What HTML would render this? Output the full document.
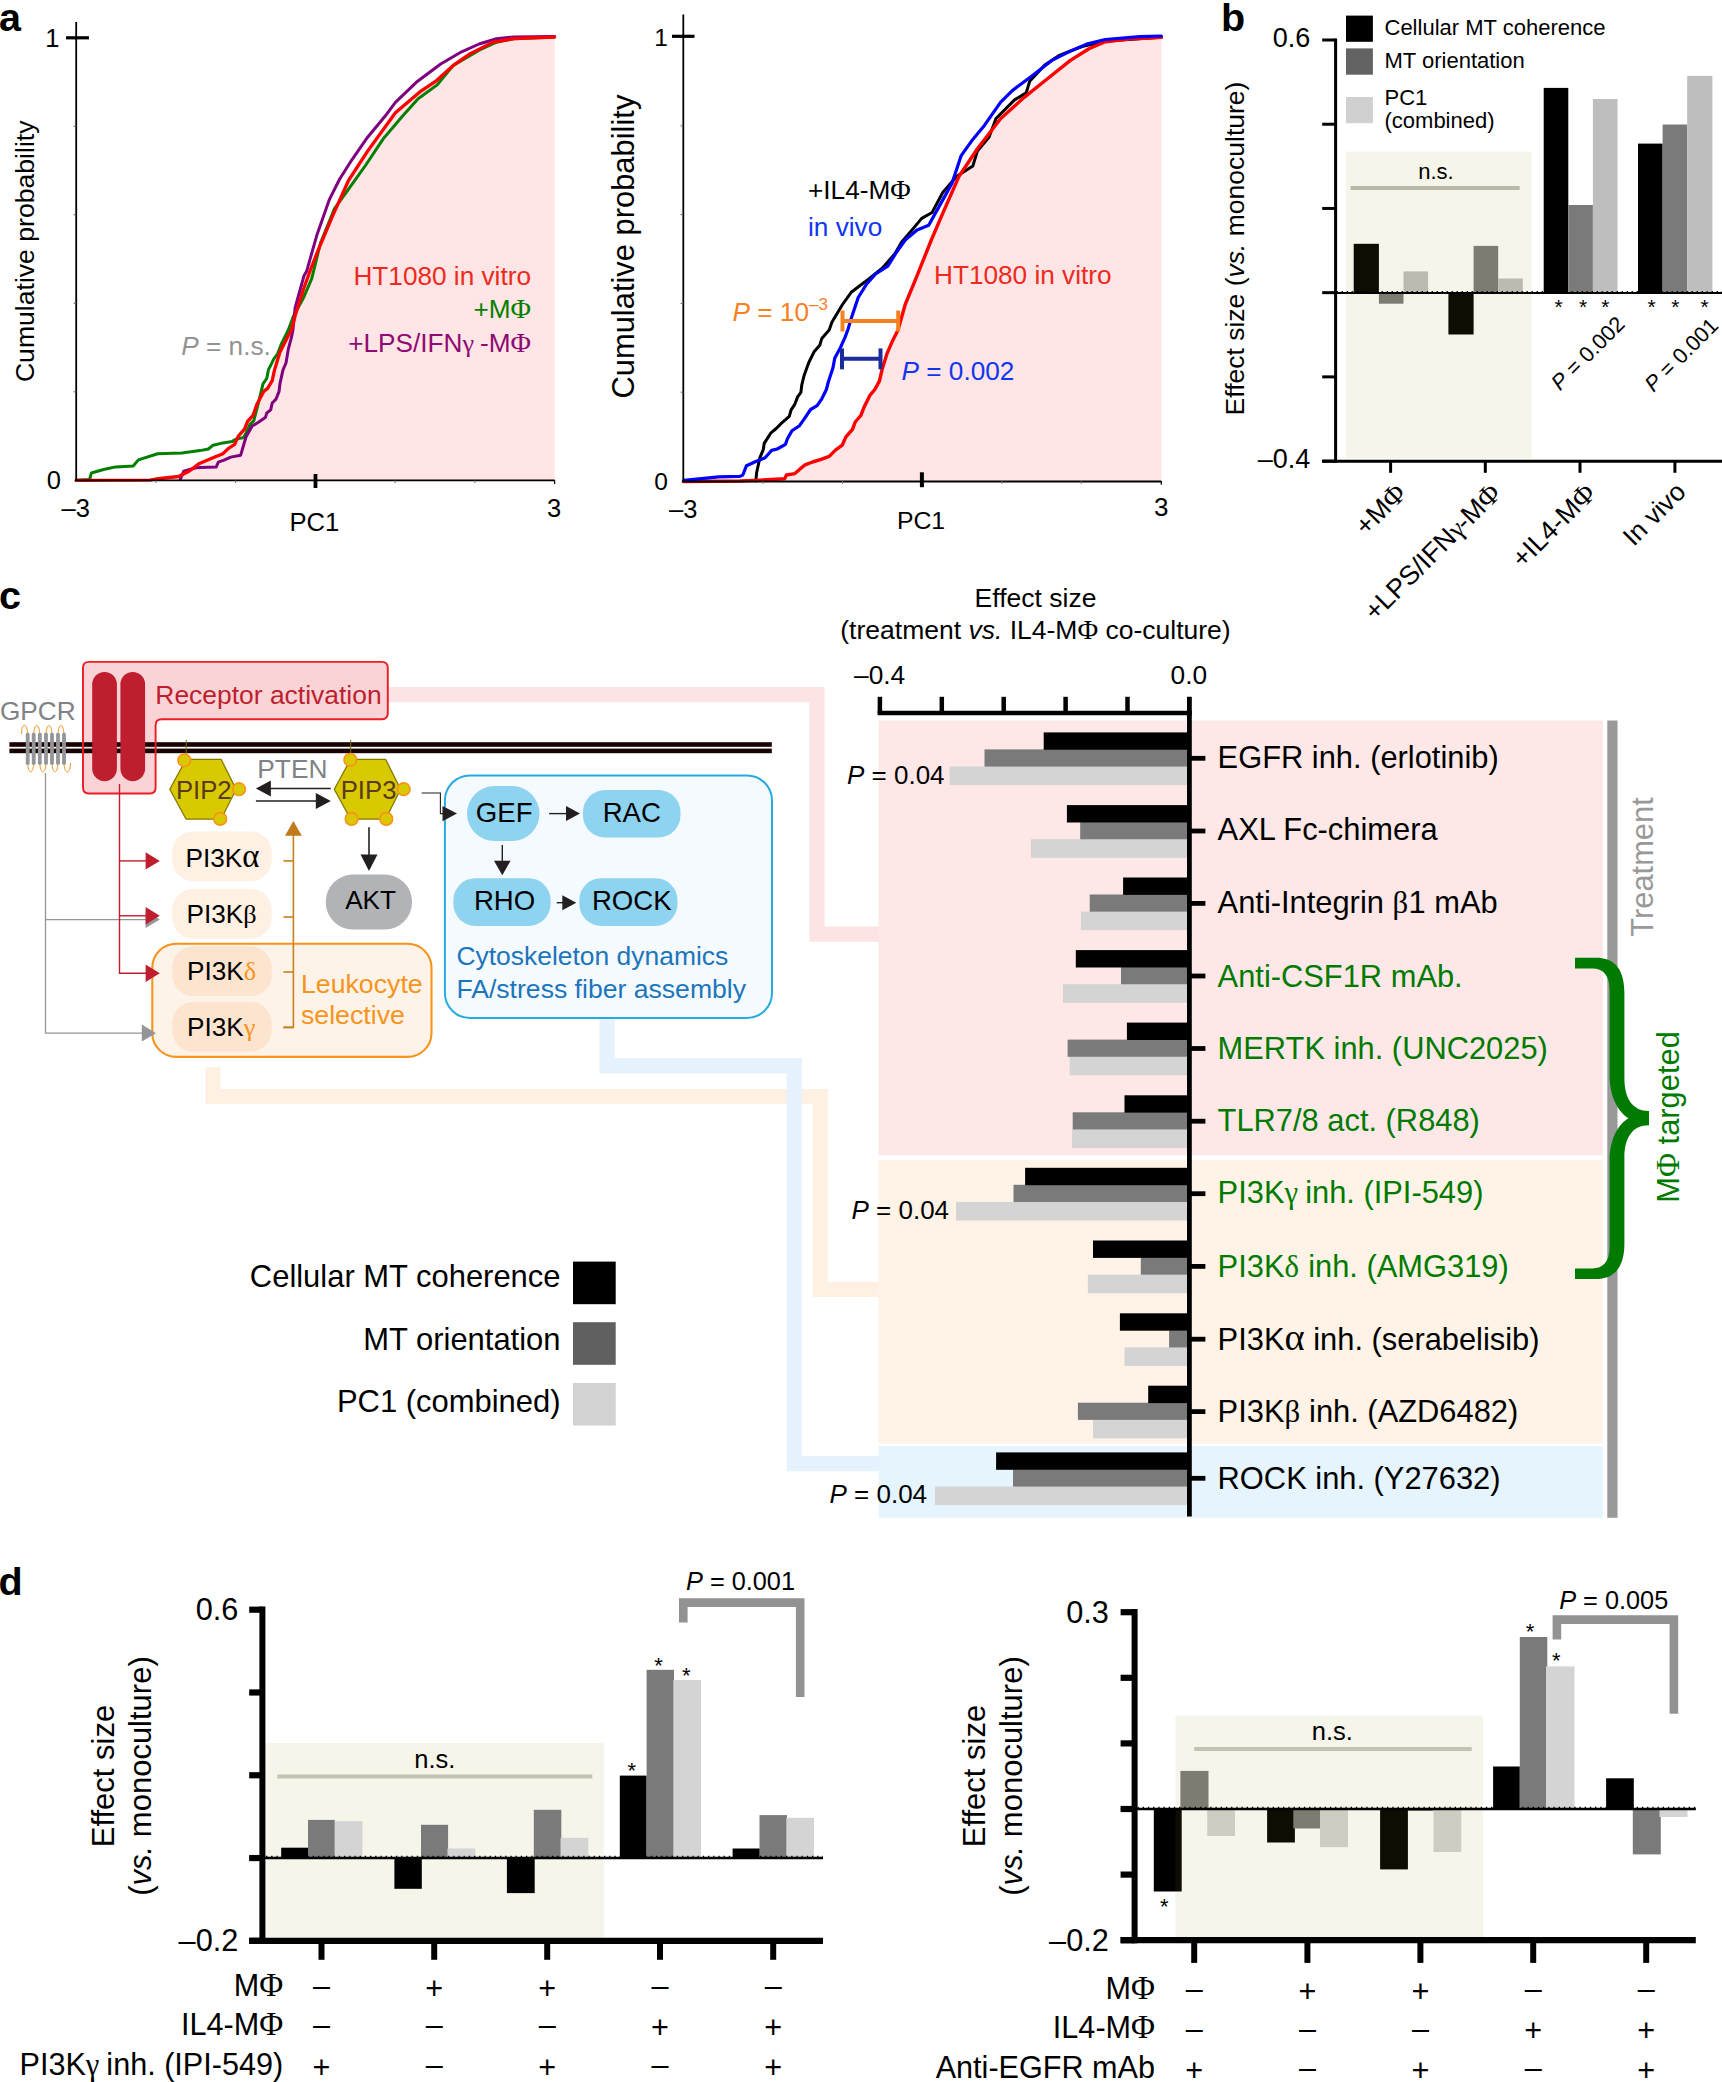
<!DOCTYPE html>
<html lang="en"><head><meta charset="utf-8"><title>Figure</title>
<style>
html,body{margin:0;padding:0;background:#fff;}
svg{display:block;font-family:'Liberation Sans', sans-serif;}
</style></head>
<body>
<svg width="1722" height="2082" viewBox="0 0 1722 2082">
<rect width="1722" height="2082" fill="#fff"/>
<g id="panel-a">
<text x="-1.00" y="31.30" font-size="39.5" fill="#000" font-weight="bold">a</text>
<polygon points="76.2,480.3 150.0,480.2 156.0,479.0 178.5,476.5 189.0,471.3 199.4,463.4 215.4,456.7 223.0,453.7 228.4,448.3 234.6,444.4 238.4,436.0 244.5,429.1 247.6,421.4 253.0,415.3 256.8,404.5 263.7,391.4 267.6,388.4 272.2,380.7 274.5,369.9 279.9,352.3 286.8,338.4 291.4,330.0 295.2,315.5 303.9,288.0 311.5,267.0 318.8,248.7 332.7,215.6 348.4,180.7 367.6,151.1 395.4,112.8 419.8,91.9 435.5,81.4 452.9,65.7 470.3,53.6 493.0,42.2 513.9,38.7 554.6,37.0 554.6,480.3 76.2,480.3" fill="#FFE5E5"/>
<polyline points="76.2,480.3 89.6,479.5 91.4,473.0 103.6,469.5 115.7,466.9 133.2,466.0 138.4,459.9 157.6,453.8 182.0,453.0 200.0,450.6 208.4,449.0 213.1,445.2 223.0,442.9 232.3,441.4 236.1,439.1 243.8,437.5 246.1,432.9 249.9,424.5 253.8,420.6 256.8,409.1 259.9,396.8 263.0,383.8 266.8,378.4 268.4,369.9 270.7,365.3 273.7,359.2 277.6,353.8 281.4,343.8 288.3,330.0 293.4,316.2 303.9,297.0 311.8,278.3 320.5,243.0 334.5,208.6 348.4,189.4 365.8,165.0 383.2,138.9 402.4,116.3 418.1,98.8 437.2,84.9 452.9,65.7 479.1,50.1 496.5,42.2 513.9,38.7 554.6,37.0" fill="none" stroke="#007F00" stroke-width="3.0" stroke-linejoin="round" stroke-linecap="round"/>
<polyline points="180.2,479.5 183.7,471.3 195.9,467.8 200.0,467.5 216.1,467.1 218.4,462.1 224.6,459.8 230.7,457.1 240.7,455.2 243.8,444.4 246.1,436.8 252.2,426.0 258.4,422.2 265.3,417.6 266.8,413.0 270.7,409.9 272.2,403.0 276.0,399.1 279.1,391.4 279.9,383.8 283.0,369.9 286.0,363.0 288.3,349.2 291.4,337.7 292.9,330.0 295.2,307.5 303.9,276.1 306.6,271.3 317.0,234.7 329.2,199.9 339.7,179.0 351.9,159.8 367.6,137.2 385.0,116.3 395.4,102.3 416.3,82.3 440.7,64.0 461.6,51.8 479.1,44.0 496.5,38.7 513.9,37.0 554.6,36.5" fill="none" stroke="#7F007F" stroke-width="3.0" stroke-linejoin="round" stroke-linecap="round"/>
<polyline points="76.2,480.3 150.0,480.2 156.0,479.0 178.5,476.5 189.0,471.3 199.4,463.4 215.4,456.7 223.0,453.7 228.4,448.3 234.6,444.4 238.4,436.0 244.5,429.1 247.6,421.4 253.0,415.3 256.8,404.5 263.7,391.4 267.6,388.4 272.2,380.7 274.5,369.9 279.9,352.3 286.8,338.4 291.4,330.0 295.2,315.5 303.9,288.0 311.5,267.0 318.8,248.7 332.7,215.6 348.4,180.7 367.6,151.1 395.4,112.8 419.8,91.9 435.5,81.4 452.9,65.7 470.3,53.6 493.0,42.2 513.9,38.7 554.6,37.0" fill="none" stroke="#FF0000" stroke-width="3.3" stroke-linejoin="round" stroke-linecap="round"/>
<line x1="76.20" y1="22.00" x2="76.20" y2="481.20" stroke="#000" stroke-width="1.8"/>
<line x1="75.30" y1="480.30" x2="554.60" y2="480.30" stroke="#000" stroke-width="1.8"/>
<line x1="66.00" y1="37.80" x2="89.00" y2="37.80" stroke="#000" stroke-width="3.2"/>
<line x1="315.50" y1="474.00" x2="315.50" y2="488.00" stroke="#000" stroke-width="3.8"/>
<line x1="73.50" y1="391.80" x2="76.20" y2="391.80" stroke="#666" stroke-width="1"/>
<line x1="73.50" y1="303.30" x2="76.20" y2="303.30" stroke="#666" stroke-width="1"/>
<line x1="73.50" y1="214.80" x2="76.20" y2="214.80" stroke="#666" stroke-width="1"/>
<line x1="73.50" y1="126.30" x2="76.20" y2="126.30" stroke="#666" stroke-width="1"/>
<line x1="155.93" y1="480.30" x2="155.93" y2="483.00" stroke="#666" stroke-width="1"/>
<line x1="235.66" y1="480.30" x2="235.66" y2="483.00" stroke="#666" stroke-width="1"/>
<line x1="395.12" y1="480.30" x2="395.12" y2="483.00" stroke="#666" stroke-width="1"/>
<line x1="474.85" y1="480.30" x2="474.85" y2="483.00" stroke="#666" stroke-width="1"/>
<line x1="554.60" y1="480.30" x2="554.60" y2="484.00" stroke="#000" stroke-width="1.2"/>
<text x="59.50" y="46.80" font-size="25.5" fill="#000" text-anchor="end">1</text>
<text x="61.00" y="489.30" font-size="25.5" fill="#000" text-anchor="end">0</text>
<text x="61.50" y="516.70" font-size="25.5" fill="#000">–3</text>
<text x="547.00" y="516.70" font-size="25.5" fill="#000">3</text>
<text x="314.30" y="531.00" font-size="25.6" fill="#000" text-anchor="middle">PC1</text>
<text transform="translate(33.50 251.30) rotate(-90)" font-size="26.6" fill="#000" text-anchor="middle">Cumulative probability</text>
<text x="531.00" y="284.50" font-size="26.2" fill="#EE2A1C" text-anchor="end">HT1080 in vitro</text>
<text x="531.00" y="317.50" font-size="26.2" fill="#007F00" text-anchor="end">+M<tspan font-family="'Liberation Serif', serif" font-size="107%">Φ</tspan></text>
<text x="531.00" y="351.50" font-size="26.2" fill="#8F0A72" text-anchor="end">+LPS/IFN<tspan font-family="'Liberation Serif', serif">γ</tspan><tspan dx="-0.050em"> </tspan>-M<tspan font-family="'Liberation Serif', serif" font-size="107%">Φ</tspan></text>
<text x="181.30" y="355.00" font-size="26.2" fill="#939393"><tspan font-style="italic">P</tspan> = n.s.</text>
<polygon points="683.3,481.5 740.0,481.0 761.4,480.1 784.6,478.7 786.5,475.0 794.8,473.6 799.5,469.4 805.1,464.8 812.5,462.0 821.8,459.2 829.2,456.4 835.7,449.9 842.2,445.2 845.9,436.9 852.5,429.4 855.2,422.0 860.8,415.5 864.5,406.2 870.1,395.1 874.8,389.5 879.4,381.1 882.2,369.0 886.8,354.2 892.4,341.2 898.0,330.0 905.2,304.5 917.4,274.8 931.3,240.0 942.6,213.7 958.9,176.5 977.4,148.7 1000.7,118.5 1023.9,97.6 1047.1,79.0 1070.4,60.4 1088.9,48.8 1105.2,41.8 1128.4,39.0 1161.3,37.2 1161.3,481.5 683.3,481.5" fill="#FFE5E5"/>
<polyline points="755.8,481.0 756.7,472.2 760.0,457.3 763.2,449.9 764.2,443.4 770.7,433.2 776.2,428.5 781.8,422.9 789.3,416.4 791.1,409.9 794.8,404.3 797.6,396.9 800.9,392.3 801.8,384.8 804.1,375.5 808.8,362.5 814.3,351.4 819.9,344.9 821.8,338.4 829.2,330.0 832.0,321.9 842.5,304.5 851.2,292.3 865.1,281.8 882.5,267.9 894.7,253.9 901.7,242.0 910.1,232.3 921.7,218.4 932.1,212.5 942.6,192.8 956.5,176.5 972.8,166.1 977.4,151.0 989.1,137.0 996.0,118.5 1014.6,99.9 1026.2,92.9 1029.7,81.3 1044.8,65.0 1058.7,55.7 1082.0,46.5 1105.2,41.3 1128.4,39.5 1161.3,37.2" fill="none" stroke="#000" stroke-width="3.0" stroke-linejoin="round" stroke-linecap="round"/>
<polyline points="683.3,481.5 740.0,481.0 761.4,480.1 784.6,478.7 786.5,475.0 794.8,473.6 799.5,469.4 805.1,464.8 812.5,462.0 821.8,459.2 829.2,456.4 835.7,449.9 842.2,445.2 845.9,436.9 852.5,429.4 855.2,422.0 860.8,415.5 864.5,406.2 870.1,395.1 874.8,389.5 879.4,381.1 882.2,369.0 886.8,354.2 892.4,341.2 898.0,330.0 905.2,304.5 917.4,274.8 931.3,240.0 942.6,213.7 958.9,176.5 977.4,148.7 1000.7,118.5 1023.9,97.6 1047.1,79.0 1070.4,60.4 1088.9,48.8 1105.2,41.8 1128.4,39.0 1161.3,37.2" fill="none" stroke="#FF0000" stroke-width="3.4" stroke-linejoin="round" stroke-linecap="round"/>
<polyline points="683.9,480.3 718.8,476.8 740.0,476.4 742.8,475.0 746.5,465.7 755.8,461.5 765.1,457.8 771.6,450.4 777.2,449.0 785.5,444.3 787.4,438.7 792.0,430.8 799.5,425.7 804.1,419.2 810.6,409.5 817.1,405.7 821.8,398.8 826.4,389.5 828.3,382.0 832.9,368.1 834.8,357.9 840.4,347.7 845.0,337.4 847.8,330.0 851.2,318.4 858.2,297.5 866.9,283.6 875.6,274.0 887.8,266.1 896.5,252.2 905.2,240.0 917.1,230.0 928.7,225.3 940.3,204.4 951.9,183.5 961.2,155.6 972.8,139.4 984.4,125.4 1000.7,102.2 1012.3,90.6 1030.9,76.7 1051.8,60.4 1070.4,51.1 1086.6,44.1 1105.2,39.5 1140.0,36.7 1161.3,36.0" fill="none" stroke="#0000FF" stroke-width="3.2" stroke-linejoin="round" stroke-linecap="round"/>
<line x1="683.30" y1="14.50" x2="683.30" y2="482.00" stroke="#000" stroke-width="1.8"/>
<line x1="682.40" y1="481.50" x2="1161.30" y2="481.50" stroke="#000" stroke-width="1.8"/>
<line x1="672.00" y1="36.30" x2="694.50" y2="36.30" stroke="#000" stroke-width="3.2"/>
<line x1="921.90" y1="472.30" x2="921.90" y2="487.20" stroke="#000" stroke-width="4.0"/>
<line x1="680.60" y1="392.20" x2="683.30" y2="392.20" stroke="#666" stroke-width="1"/>
<line x1="680.60" y1="303.40" x2="683.30" y2="303.40" stroke="#666" stroke-width="1"/>
<line x1="680.60" y1="214.60" x2="683.30" y2="214.60" stroke="#666" stroke-width="1"/>
<line x1="680.60" y1="125.80" x2="683.30" y2="125.80" stroke="#666" stroke-width="1"/>
<line x1="762.90" y1="481.00" x2="762.90" y2="483.70" stroke="#666" stroke-width="1"/>
<line x1="842.50" y1="481.00" x2="842.50" y2="483.70" stroke="#666" stroke-width="1"/>
<line x1="1001.70" y1="481.00" x2="1001.70" y2="483.70" stroke="#666" stroke-width="1"/>
<line x1="1081.30" y1="481.00" x2="1081.30" y2="483.70" stroke="#666" stroke-width="1"/>
<line x1="1161.30" y1="481.00" x2="1161.30" y2="484.70" stroke="#000" stroke-width="1.2"/>
<text x="668.00" y="45.50" font-size="24.5" fill="#000" text-anchor="end">1</text>
<text x="668.00" y="489.50" font-size="24.5" fill="#000" text-anchor="end">0</text>
<text x="669.00" y="517.50" font-size="25.5" fill="#000">–3</text>
<text x="1154.00" y="516.20" font-size="26" fill="#000">3</text>
<text x="921.00" y="528.70" font-size="24.8" fill="#000" text-anchor="middle">PC1</text>
<text transform="translate(633.70 246.60) rotate(-90)" font-size="30.9" fill="#000" text-anchor="middle">Cumulative probability</text>
<text x="808.00" y="198.50" font-size="26.2" fill="#000">+IL4-M<tspan font-family="'Liberation Serif', serif" font-size="107%">Φ</tspan></text>
<text x="808.00" y="236.00" font-size="26.2" fill="#0F36F0">in vivo</text>
<text x="934.00" y="283.50" font-size="26.2" fill="#EE2A1C">HT1080 in vitro</text>
<text x="732.50" y="320.50" font-size="26.2" fill="#F5821F"><tspan font-style="italic">P</tspan> = 10<tspan font-size="17" dy="-11">–3</tspan></text>
<text x="901.50" y="379.50" font-size="26.2" fill="#0F36F0"><tspan font-style="italic">P</tspan> = 0.002</text>
<line x1="842.00" y1="321.00" x2="898.60" y2="321.00" stroke="#F5821F" stroke-width="4"/>
<line x1="842.50" y1="310.50" x2="842.50" y2="331.50" stroke="#F5821F" stroke-width="4"/>
<line x1="898.20" y1="310.50" x2="898.20" y2="331.50" stroke="#F5821F" stroke-width="4"/>
<line x1="841.50" y1="358.80" x2="881.00" y2="358.80" stroke="#1A2C9B" stroke-width="4"/>
<line x1="842.00" y1="348.40" x2="842.00" y2="369.30" stroke="#1A2C9B" stroke-width="4"/>
<line x1="880.50" y1="348.40" x2="880.50" y2="369.30" stroke="#1A2C9B" stroke-width="4"/>
</g>
<g id="panel-b">
<text x="1221.00" y="31.00" font-size="39.5" fill="#000" font-weight="bold">b</text>
<rect x="1353.70" y="243.80" width="25.20" height="49.20" fill="#000"/>
<rect x="1378.90" y="293.00" width="24.60" height="10.70" fill="#7A7A7A"/>
<rect x="1403.50" y="271.40" width="24.60" height="21.60" fill="#C0C0C0"/>
<rect x="1448.40" y="293.00" width="25.20" height="41.50" fill="#000"/>
<rect x="1473.60" y="245.90" width="24.60" height="47.10" fill="#7A7A7A"/>
<rect x="1498.20" y="278.50" width="24.60" height="14.50" fill="#C0C0C0"/>
<rect x="1543.70" y="87.90" width="24.60" height="205.10" fill="#000"/>
<rect x="1568.30" y="205.00" width="24.60" height="88.00" fill="#7A7A7A"/>
<rect x="1592.90" y="99.00" width="24.60" height="194.00" fill="#BEBEBE"/>
<rect x="1638.00" y="143.60" width="24.60" height="149.40" fill="#000"/>
<rect x="1662.60" y="124.50" width="24.60" height="168.50" fill="#7A7A7A"/>
<rect x="1687.20" y="75.90" width="25.20" height="217.10" fill="#BEBEBE"/>
<rect x="1346" y="151.6" width="185.5" height="307" fill="#909016" fill-opacity="0.09"/>
<rect x="1346.00" y="15.60" width="26.90" height="26.20" fill="#000"/>
<rect x="1346.00" y="48.40" width="26.90" height="26.30" fill="#636363"/>
<rect x="1346.00" y="97.00" width="26.90" height="26.20" fill="#D0D0D0"/>
<text x="1384.50" y="35.30" font-size="22" fill="#000">Cellular MT coherence</text>
<text x="1384.50" y="68.20" font-size="22" fill="#000">MT orientation</text>
<text x="1384.50" y="105.10" font-size="22" fill="#000">PC1</text>
<text x="1384.50" y="128.00" font-size="22" fill="#000">(combined)</text>
<text x="1436.00" y="179.30" font-size="22" fill="#000" text-anchor="middle">n.s.</text>
<line x1="1350.60" y1="188.00" x2="1519.70" y2="188.00" stroke="#B9B9A9" stroke-width="4"/>
<line x1="1335.60" y1="38.50" x2="1335.60" y2="462.70" stroke="#000" stroke-width="3.0"/>
<line x1="1322.20" y1="461.20" x2="1722.00" y2="461.20" stroke="#000" stroke-width="3.0"/>
<line x1="1322.20" y1="40.00" x2="1335.60" y2="40.00" stroke="#000" stroke-width="3.0"/>
<line x1="1322.20" y1="124.22" x2="1335.60" y2="124.22" stroke="#000" stroke-width="3.0"/>
<line x1="1322.20" y1="208.44" x2="1335.60" y2="208.44" stroke="#000" stroke-width="3.0"/>
<line x1="1322.20" y1="292.66" x2="1335.60" y2="292.66" stroke="#000" stroke-width="3.0"/>
<line x1="1322.20" y1="376.88" x2="1335.60" y2="376.88" stroke="#000" stroke-width="3.0"/>
<line x1="1322.20" y1="461.10" x2="1335.60" y2="461.10" stroke="#000" stroke-width="3.0"/>
<line x1="1390.60" y1="461.20" x2="1390.60" y2="472.80" stroke="#000" stroke-width="3.0"/>
<line x1="1485.30" y1="461.20" x2="1485.30" y2="472.80" stroke="#000" stroke-width="3.0"/>
<line x1="1580.00" y1="461.20" x2="1580.00" y2="472.80" stroke="#000" stroke-width="3.0"/>
<line x1="1674.90" y1="461.20" x2="1674.90" y2="472.80" stroke="#000" stroke-width="3.0"/>
<line x1="1323.00" y1="293.00" x2="1722.00" y2="293.00" stroke="#000" stroke-width="2.2"/>
<line x1="1336.60" y1="292.50" x2="1722.00" y2="292.50" stroke="#000" stroke-width="2.9" stroke-dasharray="1.3 3.7"/>
<text x="1310.30" y="47.40" font-size="27" fill="#000" text-anchor="end">0.6</text>
<text x="1310.30" y="468.00" font-size="27" fill="#000" text-anchor="end">–0.4</text>
<text transform="translate(1243.60 248.50) rotate(-90)" font-size="26.5" fill="#000" text-anchor="middle">Effect size (<tspan font-style="italic">vs.</tspan> monoculture)</text>
<text x="1558.60" y="314.20" font-size="21" fill="#000" text-anchor="middle">*</text>
<text x="1583.10" y="314.20" font-size="21" fill="#000" text-anchor="middle">*</text>
<text x="1605.30" y="314.20" font-size="21" fill="#000" text-anchor="middle">*</text>
<text x="1651.50" y="314.20" font-size="21" fill="#000" text-anchor="middle">*</text>
<text x="1675.30" y="314.20" font-size="21" fill="#000" text-anchor="middle">*</text>
<text x="1704.50" y="314.20" font-size="21" fill="#000" text-anchor="middle">*</text>
<text transform="translate(1560.00 391.50) rotate(-45)" font-size="21.7" fill="#000"><tspan font-style="italic">P</tspan> = 0.002</text>
<text transform="translate(1653.50 393.00) rotate(-45)" font-size="21.7" fill="#000"><tspan font-style="italic">P</tspan> = 0.001</text>
<text transform="translate(1407.60 495.00) rotate(-45)" font-size="26.8" fill="#000" text-anchor="end">+M<tspan font-family="'Liberation Serif', serif" font-size="107%">Φ</tspan></text>
<text transform="translate(1502.30 495.00) rotate(-45)" font-size="26.8" fill="#000" text-anchor="end">+LPS/IFN<tspan font-family="'Liberation Serif', serif">γ</tspan><tspan dx="-0.050em">-</tspan>M<tspan font-family="'Liberation Serif', serif" font-size="107%">Φ</tspan></text>
<text transform="translate(1597.00 495.00) rotate(-45)" font-size="26.8" fill="#000" text-anchor="end">+IL4-M<tspan font-family="'Liberation Serif', serif" font-size="107%">Φ</tspan></text>
<text transform="translate(1687.40 493.50) rotate(-45)" font-size="26.3" fill="#000" text-anchor="end">In vivo</text>
</g>
<g id="panel-c">
<text x="-1.00" y="608.70" font-size="39.5" fill="#000" font-weight="bold">c</text>
<path d="M387,694.6 H817 V934.2 H879" fill="none" stroke="#FCE4E4" stroke-width="15.2"/>
<path d="M212.9,1067.2 V1096.5 H820.4 V1289.4 H879" fill="none" stroke="#FEF1E4" stroke-width="15.2"/>
<path d="M607.1,1018 V1065.8 H794.2 V1463.7 H879" fill="none" stroke="#E6F2FD" stroke-width="15.2"/>
<rect x="878.60" y="720.50" width="724.20" height="434.80" fill="#FDE8E7"/>
<rect x="878.60" y="1159.70" width="724.20" height="283.80" fill="#FEF3E6"/>
<rect x="878.60" y="1446.00" width="724.20" height="71.80" fill="#E5F4FD"/>
<rect x="1607.30" y="720.50" width="10.20" height="797.30" fill="#999999"/>
<rect x="949.60" y="766.50" width="239.80" height="18.60" fill="#D4D4D4"/>
<rect x="984.50" y="749.40" width="204.90" height="17.20" fill="#7A7A7A"/>
<rect x="1043.70" y="732.40" width="145.70" height="17.40" fill="#000"/>
<line x1="1189.40" y1="758.30" x2="1205.40" y2="758.30" stroke="#000" stroke-width="4.8"/>
<text x="1217.60" y="767.70" font-size="30.85" fill="#000">EGFR inh. (erlotinib)</text>
<rect x="1030.90" y="839.20" width="158.50" height="18.60" fill="#D4D4D4"/>
<rect x="1080.20" y="822.10" width="109.20" height="17.20" fill="#7A7A7A"/>
<rect x="1066.90" y="805.10" width="122.50" height="17.40" fill="#000"/>
<line x1="1189.40" y1="831.00" x2="1205.40" y2="831.00" stroke="#000" stroke-width="4.8"/>
<text x="1217.60" y="840.00" font-size="30.85" fill="#000">AXL Fc-chimera</text>
<rect x="1080.90" y="911.60" width="108.50" height="18.60" fill="#D4D4D4"/>
<rect x="1089.70" y="894.50" width="99.70" height="17.20" fill="#7A7A7A"/>
<rect x="1123.10" y="877.50" width="66.30" height="17.40" fill="#000"/>
<line x1="1189.40" y1="903.40" x2="1205.40" y2="903.40" stroke="#000" stroke-width="4.8"/>
<text x="1217.60" y="913.10" font-size="30.85" fill="#000">Anti-Integrin <tspan font-family="'Liberation Serif', serif">β</tspan><tspan dx="0.010em">1</tspan> mAb</text>
<rect x="1063.00" y="984.20" width="126.40" height="18.60" fill="#D4D4D4"/>
<rect x="1121.00" y="967.10" width="68.40" height="17.20" fill="#7A7A7A"/>
<rect x="1075.80" y="950.10" width="113.60" height="17.40" fill="#000"/>
<line x1="1189.40" y1="976.00" x2="1205.40" y2="976.00" stroke="#000" stroke-width="4.8"/>
<text x="1217.60" y="986.70" font-size="30.85" fill="#007A00">Anti-CSF1R mAb.</text>
<rect x="1069.70" y="1056.70" width="119.70" height="18.60" fill="#D4D4D4"/>
<rect x="1067.60" y="1039.60" width="121.80" height="17.20" fill="#7A7A7A"/>
<rect x="1126.90" y="1022.60" width="62.50" height="17.40" fill="#000"/>
<line x1="1189.40" y1="1048.50" x2="1205.40" y2="1048.50" stroke="#000" stroke-width="4.8"/>
<text x="1217.60" y="1059.00" font-size="30.85" fill="#007A00">MERTK inh. (UNC2025)</text>
<rect x="1072.00" y="1129.40" width="117.40" height="18.60" fill="#D4D4D4"/>
<rect x="1072.70" y="1112.30" width="116.70" height="17.20" fill="#7A7A7A"/>
<rect x="1124.50" y="1095.30" width="64.90" height="17.40" fill="#000"/>
<line x1="1189.40" y1="1121.20" x2="1205.40" y2="1121.20" stroke="#000" stroke-width="4.8"/>
<text x="1217.60" y="1131.40" font-size="30.85" fill="#007A00">TLR7/8 act. (R848)</text>
<rect x="956.10" y="1201.90" width="233.30" height="18.60" fill="#D4D4D4"/>
<rect x="1013.50" y="1184.80" width="175.90" height="17.20" fill="#7A7A7A"/>
<rect x="1025.10" y="1167.80" width="164.30" height="17.40" fill="#000"/>
<line x1="1189.40" y1="1193.70" x2="1205.40" y2="1193.70" stroke="#000" stroke-width="4.8"/>
<text x="1217.60" y="1203.30" font-size="30.85" fill="#007A00">PI3K<tspan font-family="'Liberation Serif', serif">γ</tspan><tspan dx="-0.050em"> </tspan>inh. (IPI-549)</text>
<rect x="1087.80" y="1274.60" width="101.60" height="18.60" fill="#D4D4D4"/>
<rect x="1140.80" y="1257.50" width="48.60" height="17.20" fill="#7A7A7A"/>
<rect x="1093.00" y="1240.50" width="96.40" height="17.40" fill="#000"/>
<line x1="1189.40" y1="1266.40" x2="1205.40" y2="1266.40" stroke="#000" stroke-width="4.8"/>
<text x="1217.60" y="1277.40" font-size="30.85" fill="#007A00">PI3K<tspan font-family="'Liberation Serif', serif">δ</tspan><tspan dx="0.020em"> </tspan>inh. (AMG319)</text>
<rect x="1124.50" y="1347.40" width="64.90" height="18.60" fill="#D4D4D4"/>
<rect x="1169.10" y="1330.30" width="20.30" height="17.20" fill="#7A7A7A"/>
<rect x="1119.90" y="1313.30" width="69.50" height="17.40" fill="#000"/>
<line x1="1189.40" y1="1339.20" x2="1205.40" y2="1339.20" stroke="#000" stroke-width="4.8"/>
<text x="1217.60" y="1350.00" font-size="30.85" fill="#000">PI3K<tspan font-family="'Liberation Serif', serif" font-size="125%">α</tspan> inh. (serabelisib)</text>
<rect x="1093.00" y="1419.80" width="96.40" height="18.60" fill="#D4D4D4"/>
<rect x="1077.90" y="1402.70" width="111.50" height="17.20" fill="#7A7A7A"/>
<rect x="1148.20" y="1385.70" width="41.20" height="17.40" fill="#000"/>
<line x1="1189.40" y1="1411.60" x2="1205.40" y2="1411.60" stroke="#000" stroke-width="4.8"/>
<text x="1217.60" y="1422.30" font-size="30.85" fill="#000">PI3K<tspan font-family="'Liberation Serif', serif">β</tspan><tspan dx="0.010em"> </tspan>inh. (AZD6482)</text>
<rect x="935.00" y="1486.50" width="254.40" height="18.60" fill="#D4D4D4"/>
<rect x="1013.00" y="1469.40" width="176.40" height="17.20" fill="#7A7A7A"/>
<rect x="996.10" y="1452.40" width="193.30" height="17.40" fill="#000"/>
<line x1="1189.40" y1="1478.30" x2="1205.40" y2="1478.30" stroke="#000" stroke-width="4.8"/>
<text x="1217.60" y="1488.90" font-size="30.85" fill="#000">ROCK inh. (Y27632)</text>
<line x1="877.60" y1="713.00" x2="1191.80" y2="713.00" stroke="#000" stroke-width="4.5"/>
<line x1="1189.40" y1="696.80" x2="1189.40" y2="1516.50" stroke="#000" stroke-width="4.8"/>
<line x1="879.90" y1="696.80" x2="879.90" y2="713.00" stroke="#000" stroke-width="4.5"/>
<line x1="941.80" y1="696.80" x2="941.80" y2="713.00" stroke="#000" stroke-width="4.5"/>
<line x1="1003.70" y1="696.80" x2="1003.70" y2="713.00" stroke="#000" stroke-width="4.5"/>
<line x1="1065.60" y1="696.80" x2="1065.60" y2="713.00" stroke="#000" stroke-width="4.5"/>
<line x1="1127.50" y1="696.80" x2="1127.50" y2="713.00" stroke="#000" stroke-width="4.5"/>
<text x="1035.50" y="607.30" font-size="26.5" fill="#000" text-anchor="middle">Effect size</text>
<text x="1035.50" y="638.60" font-size="26.5" fill="#000" text-anchor="middle">(treatment <tspan font-style="italic">vs.</tspan> IL4-M<tspan font-family="'Liberation Serif', serif" font-size="107%">Φ</tspan> co-culture)</text>
<text x="854.00" y="683.50" font-size="26.3" fill="#000">–0.4</text>
<text x="1170.50" y="683.50" font-size="26.3" fill="#000">0.0</text>
<text x="847.00" y="783.70" font-size="26" fill="#000"><tspan font-style="italic">P</tspan> = 0.04</text>
<text x="851.50" y="1218.80" font-size="26" fill="#000"><tspan font-style="italic">P</tspan> = 0.04</text>
<text x="829.50" y="1503.00" font-size="26" fill="#000"><tspan font-style="italic">P</tspan> = 0.04</text>
<text transform="translate(1652.50 867.00) rotate(-90)" font-size="30.85" fill="#999999" text-anchor="middle">Treatment</text>
<text transform="translate(1678.50 1117.00) rotate(-90)" font-size="30.85" fill="#007A00" text-anchor="middle">M<tspan font-family="'Liberation Serif', serif" font-size="107%">Φ</tspan> targeted</text>
<path d="M1575,957.7 H1596 C1612,957.7 1624.4,966 1624.4,993 V1078 C1624.4,1098 1632,1111 1649,1111 V1125.2 C1632,1125.2 1624.4,1138 1624.4,1158 V1243.7 C1624.4,1270 1612,1279 1596,1279 H1575 V1268.4 H1592.3 C1603,1268.4 1609.6,1262 1609.6,1247 V1160 C1609.6,1140 1618,1124 1628.5,1118.2 C1618,1112 1609.6,1096 1609.6,1076 V989.8 C1609.6,975 1603,968.4 1592.3,968.4 H1575 Z" fill="#007A00" stroke="none" stroke-width="1"/>
<rect x="573.00" y="1261.60" width="42.70" height="42.60" fill="#000"/>
<rect x="573.00" y="1322.20" width="42.70" height="42.60" fill="#606060"/>
<rect x="573.00" y="1382.90" width="42.70" height="42.60" fill="#D2D2D2"/>
<text x="560.50" y="1286.70" font-size="30.95" fill="#000" text-anchor="end">Cellular MT coherence</text>
<text x="560.50" y="1350.20" font-size="30.95" fill="#000" text-anchor="end">MT orientation</text>
<text x="560.50" y="1412.10" font-size="30.95" fill="#000" text-anchor="end">PC1 (combined)</text>
<path d="M89,661.9 H381.8 Q387.8,661.9 387.8,667.9 V713.3 Q387.8,719.3 381.8,719.3 H161.6 Q155.6,719.3 155.6,725.3 V787.5 Q155.6,793.5 149.6,793.5 H89 Q83,793.5 83,787.5 V667.9 Q83,661.9 89,661.9 Z" fill="#FAD3D6" stroke="none" stroke-width="1"/>
<rect x="9.40" y="742.20" width="762.40" height="4.60" fill="#1A0303"/>
<rect x="9.40" y="748.60" width="762.40" height="4.60" fill="#1A0303"/>
<path d="M89,661.9 H381.8 Q387.8,661.9 387.8,667.9 V713.3 Q387.8,719.3 381.8,719.3 H161.6 Q155.6,719.3 155.6,725.3 V787.5 Q155.6,793.5 149.6,793.5 H89 Q83,793.5 83,787.5 V667.9 Q83,661.9 89,661.9 Z" fill="none" stroke="#ED1C24" stroke-width="1.9"/>
<rect x="92.2" y="671.9" width="24.7" height="109.3" rx="12.35" fill="#BE1E2D"/>
<rect x="120.4" y="671.9" width="24.7" height="109.3" rx="12.35" fill="#BE1E2D"/>
<text x="155.30" y="703.60" font-size="26.45" fill="#BE1E2D">Receptor activation</text>
<text x="0.00" y="719.80" font-size="26.2" fill="#808285">GPCR</text>
<path d="M33.7,736 C33.7,722 39.8,722 39.8,736" fill="none" stroke="#F7941D" stroke-width="1"/>
<path d="M46.0,736 C46.0,722 52.0,722 52.0,736" fill="none" stroke="#F7941D" stroke-width="1"/>
<path d="M58.0,736 C58.0,722 64.0,722 64.0,736" fill="none" stroke="#F7941D" stroke-width="1"/>
<path d="M21.5,734 C21.5,722 27.7,722 27.7,736" fill="none" stroke="#F7941D" stroke-width="1"/>
<path d="M27.7,762 C27.7,775 33.7,775 33.7,762" fill="none" stroke="#F7941D" stroke-width="1"/>
<path d="M39.8,762 C39.8,775 46.0,775 46.0,762" fill="none" stroke="#F7941D" stroke-width="1"/>
<path d="M52.0,762 C52.0,775 58.0,775 58.0,762" fill="none" stroke="#F7941D" stroke-width="1"/>
<path d="M64,762 C64,775 70.5,775 70.5,763" fill="none" stroke="#F7941D" stroke-width="1"/>
<rect x="25.80" y="732.8" width="3.8" height="32" rx="1.6" fill="#939598"/>
<rect x="31.80" y="732.8" width="3.8" height="32" rx="1.6" fill="#939598"/>
<rect x="37.90" y="732.8" width="3.8" height="32" rx="1.6" fill="#939598"/>
<rect x="44.10" y="732.8" width="3.8" height="32" rx="1.6" fill="#939598"/>
<rect x="50.10" y="732.8" width="3.8" height="32" rx="1.6" fill="#939598"/>
<rect x="56.10" y="732.8" width="3.8" height="32" rx="1.6" fill="#939598"/>
<rect x="62.10" y="732.8" width="3.8" height="32" rx="1.6" fill="#939598"/>
<rect x="152.3" y="943.8" width="279.2" height="113.1" rx="24" fill="#FEF3E8" stroke="#F7941D" stroke-width="2.1"/>
<rect x="172.3" y="831.4" width="99.4" height="49.8" rx="21" fill="#FEF0E2"/>
<rect x="172.3" y="888.8" width="99.4" height="49.8" rx="21" fill="#FEF0E2"/>
<rect x="172.3" y="946.3" width="99.4" height="49.8" rx="21" fill="#FDE4CE"/>
<rect x="172.3" y="1002.0" width="99.4" height="49.8" rx="21" fill="#FDE4CE"/>
<path d="M45.5,773 V1033.2 H143" fill="none" stroke="#939598" stroke-width="1.3"/>
<path d="M45.5,919.6 H147" fill="none" stroke="#939598" stroke-width="1.3"/>
<path d="M141.8,1024.4 L156,1033.2 L141.8,1041.6 Z" fill="#939598" stroke="none" stroke-width="1"/>
<path d="M145.6,911 L159.8,919.6 L145.6,928 Z" fill="#939598" stroke="none" stroke-width="1"/>
<path d="M119.5,784 V973.2 H147" fill="none" stroke="#BE1E2D" stroke-width="1.4"/>
<path d="M119.5,860.9 H147" fill="none" stroke="#BE1E2D" stroke-width="1.4"/>
<path d="M119.5,915.8 H147" fill="none" stroke="#BE1E2D" stroke-width="1.4"/>
<path d="M145.6,852.2 L159.8,860.9 L145.6,869.6 Z" fill="#BE1E2D" stroke="none" stroke-width="1"/>
<path d="M145.6,907.1 L159.8,915.8 L145.6,924.5 Z" fill="#BE1E2D" stroke="none" stroke-width="1"/>
<path d="M145.6,964.5 L159.8,973.2 L145.6,981.9 Z" fill="#BE1E2D" stroke="none" stroke-width="1"/>
<text x="185.50" y="867.10" font-size="26.2" fill="#000">PI3K<tspan font-family="'Liberation Serif', serif" font-size="125%">α</tspan></text>
<text x="186.50" y="923.30" font-size="26.2" fill="#000">PI3K<tspan font-family="'Liberation Serif', serif">β</tspan></text>
<text x="187.00" y="979.50" font-size="26.2" fill="#000">PI3K<tspan font-family="'Liberation Serif', serif" fill="#F7941D">δ</tspan></text>
<text x="187.00" y="1035.70" font-size="26.2" fill="#000">PI3K<tspan font-family="'Liberation Serif', serif" fill="#F7941D">γ</tspan></text>
<text x="301.00" y="992.60" font-size="26.7" fill="#F7941D">Leukocyte</text>
<text x="301.00" y="1023.80" font-size="26.7" fill="#F7941D">selective</text>
<path d="M283.4,1027.4 H293.4 V834" fill="none" stroke="#C8811F" stroke-width="1.6"/>
<line x1="283.40" y1="860.90" x2="293.40" y2="860.90" stroke="#C8811F" stroke-width="1.6"/>
<line x1="283.40" y1="917.00" x2="293.40" y2="917.00" stroke="#C8811F" stroke-width="1.6"/>
<line x1="283.40" y1="972.00" x2="293.40" y2="972.00" stroke="#C8811F" stroke-width="1.6"/>
<line x1="283.40" y1="1027.40" x2="293.40" y2="1027.40" stroke="#C8811F" stroke-width="1.6"/>
<path d="M285.0,835.8 L293.4,820.9 L301.8,835.8 Z" fill="#BF7A1B" stroke="none" stroke-width="1"/>
<line x1="186.20" y1="739.80" x2="186.20" y2="756.00" stroke="#7A6F00" stroke-width="1"/>
<polygon points="169.8,789.2 186.1,759.3 221.1,759.3 236.1,789.2 221.1,819.2 186.1,819.2" fill="#D9C900" stroke="#857800" stroke-width="1.3"/>
<circle cx="184.3" cy="760.3" r="6.3" fill="#D9C900" stroke="#F7941D" stroke-width="1.7"/>
<circle cx="239.0" cy="789.2" r="6.3" fill="#D9C900" stroke="#F7941D" stroke-width="1.7"/>
<circle cx="220.2" cy="818.9" r="6.3" fill="#D9C900" stroke="#F7941D" stroke-width="1.7"/>
<line x1="350.70" y1="739.80" x2="350.70" y2="756.00" stroke="#7A6F00" stroke-width="1"/>
<polygon points="334.3,789.2 350.6,759.3 385.6,759.3 400.6,789.2 385.6,819.2 350.6,819.2" fill="#D9C900" stroke="#857800" stroke-width="1.3"/>
<circle cx="350.3" cy="759.8" r="6.3" fill="#D9C900" stroke="#F7941D" stroke-width="1.7"/>
<circle cx="403.7" cy="789.2" r="6.3" fill="#D9C900" stroke="#F7941D" stroke-width="1.7"/>
<circle cx="351.6" cy="818.9" r="6.3" fill="#D9C900" stroke="#F7941D" stroke-width="1.7"/>
<circle cx="386.3" cy="818.9" r="6.3" fill="#D9C900" stroke="#F7941D" stroke-width="1.7"/>
<text x="203.80" y="799.00" font-size="25.7" fill="#5A3A1A" text-anchor="middle">PIP2</text>
<text x="368.60" y="799.00" font-size="25.7" fill="#5A3A1A" text-anchor="middle">PIP3</text>
<text x="257.30" y="777.70" font-size="26.3" fill="#808285">PTEN</text>
<line x1="268.00" y1="788.50" x2="330.80" y2="788.50" stroke="#231F20" stroke-width="1.6"/>
<path d="M270.9,780.5 L255.9,788.5 L270.9,796.5 Z" fill="#231F20" stroke="none" stroke-width="1"/>
<line x1="255.90" y1="801.00" x2="318.00" y2="801.00" stroke="#231F20" stroke-width="1.6"/>
<path d="M315.8,793 L330.8,801 L315.8,809 Z" fill="#231F20" stroke="none" stroke-width="1"/>
<line x1="369.00" y1="827.20" x2="369.00" y2="856.00" stroke="#231F20" stroke-width="1.6"/>
<path d="M360.5,854.5 L369,870.9 L377.5,854.5 Z" fill="#231F20" stroke="none" stroke-width="1"/>
<rect x="325.8" y="874.6" width="86.2" height="54.9" rx="27" fill="#B1B3B6"/>
<text x="370.60" y="909.10" font-size="26.2" fill="#000" text-anchor="middle">AKT</text>
<rect x="444.9" y="775.5" width="327.1" height="242.5" rx="25" fill="#F4FAFD" stroke="#27AAE1" stroke-width="2.0"/>
<rect x="467" y="786.1" width="72.5" height="54.9" rx="27.4" fill="#8ED3EF"/>
<rect x="583" y="790" width="97.5" height="47.4" rx="22" fill="#8ED3EF"/>
<rect x="453.4" y="878.2" width="97.2" height="47.7" rx="22" fill="#8ED3EF"/>
<rect x="579.3" y="878.2" width="98.2" height="47.7" rx="22" fill="#8ED3EF"/>
<text x="504.20" y="822.30" font-size="27.6" fill="#000" text-anchor="middle">GEF</text>
<text x="631.80" y="822.30" font-size="27.6" fill="#000" text-anchor="middle">RAC</text>
<text x="504.60" y="910.00" font-size="27.6" fill="#000" text-anchor="middle">RHO</text>
<text x="631.80" y="910.00" font-size="27.6" fill="#000" text-anchor="middle">ROCK</text>
<line x1="549.10" y1="813.60" x2="568.00" y2="813.60" stroke="#231F20" stroke-width="1.4"/>
<path d="M566,806.1 L580,813.6 L566,821.1 Z" fill="#231F20" stroke="none" stroke-width="1"/>
<line x1="502.30" y1="845.00" x2="502.30" y2="862.00" stroke="#231F20" stroke-width="1.4"/>
<path d="M494,860.7 L502.3,875.2 L510.6,860.7 Z" fill="#231F20" stroke="none" stroke-width="1"/>
<line x1="556.70" y1="902.70" x2="564.00" y2="902.70" stroke="#231F20" stroke-width="1.4"/>
<path d="M562.3,895.2 L576.3,902.7 L562.3,910.2 Z" fill="#231F20" stroke="none" stroke-width="1"/>
<path d="M421.7,793 H440.4 V813.6 H444" fill="none" stroke="#231F20" stroke-width="1.1"/>
<path d="M442.5,806 L457,813.6 L442.5,821.2 Z" fill="#231F20" stroke="none" stroke-width="1"/>
<text x="456.40" y="965.20" font-size="26.45" fill="#1C75BC">Cytoskeleton dynamics</text>
<text x="456.40" y="997.50" font-size="26.6" fill="#1C75BC">FA/stress fiber assembly</text>
</g>
<g id="panel-d">
<text x="-1.50" y="1594.70" font-size="39.5" fill="#000" font-weight="bold">d</text>
<rect x="265.5" y="1743" width="338.3" height="196" fill="#F5F5EA"/>
<rect x="281.20" y="1847.70" width="26.80" height="10.30" fill="#000"/>
<rect x="308.00" y="1819.90" width="26.80" height="38.10" fill="#7A7A7A"/>
<rect x="334.80" y="1821.20" width="27.60" height="36.80" fill="#D4D4D4"/>
<rect x="394.40" y="1858.00" width="27.40" height="30.80" fill="#000"/>
<rect x="421.00" y="1824.80" width="27.10" height="33.20" fill="#7A7A7A"/>
<rect x="447.50" y="1848.50" width="27.80" height="9.50" fill="#D4D4D4"/>
<rect x="506.90" y="1858.00" width="27.80" height="35.10" fill="#000"/>
<rect x="533.80" y="1809.80" width="27.50" height="48.20" fill="#7A7A7A"/>
<rect x="560.50" y="1837.80" width="27.80" height="20.20" fill="#D4D4D4"/>
<rect x="619.80" y="1775.60" width="26.80" height="82.40" fill="#000"/>
<rect x="646.60" y="1669.80" width="27.40" height="188.20" fill="#7A7A7A"/>
<rect x="673.30" y="1680.00" width="27.70" height="178.00" fill="#D4D4D4"/>
<rect x="732.60" y="1848.50" width="27.20" height="9.50" fill="#000"/>
<rect x="759.50" y="1815.10" width="27.50" height="42.90" fill="#7A7A7A"/>
<rect x="786.30" y="1817.80" width="27.70" height="40.20" fill="#D4D4D4"/>
<line x1="277.30" y1="1776.40" x2="592.30" y2="1776.40" stroke="#C3C3B4" stroke-width="4"/>
<text x="434.80" y="1768.40" font-size="25.5" fill="#000" text-anchor="middle">n.s.</text>
<line x1="262.40" y1="1606.60" x2="262.40" y2="1943.90" stroke="#000" stroke-width="6.0"/>
<line x1="249.20" y1="1940.80" x2="823.00" y2="1940.80" stroke="#000" stroke-width="6.2"/>
<line x1="249.20" y1="1609.70" x2="262.40" y2="1609.70" stroke="#000" stroke-width="6.2"/>
<line x1="249.20" y1="1692.48" x2="262.40" y2="1692.48" stroke="#000" stroke-width="6.2"/>
<line x1="249.20" y1="1775.26" x2="262.40" y2="1775.26" stroke="#000" stroke-width="6.2"/>
<line x1="249.20" y1="1858.04" x2="262.40" y2="1858.04" stroke="#000" stroke-width="6.2"/>
<line x1="249.20" y1="1940.82" x2="262.40" y2="1940.82" stroke="#000" stroke-width="6.2"/>
<line x1="321.50" y1="1940.80" x2="321.50" y2="1959.80" stroke="#000" stroke-width="6.0"/>
<line x1="434.20" y1="1940.80" x2="434.20" y2="1959.80" stroke="#000" stroke-width="6.0"/>
<line x1="547.20" y1="1940.80" x2="547.20" y2="1959.80" stroke="#000" stroke-width="6.0"/>
<line x1="660.00" y1="1940.80" x2="660.00" y2="1959.80" stroke="#000" stroke-width="6.0"/>
<line x1="773.20" y1="1940.80" x2="773.20" y2="1959.80" stroke="#000" stroke-width="6.0"/>
<line x1="249.40" y1="1858.00" x2="823.00" y2="1858.00" stroke="#000" stroke-width="2.4"/>
<line x1="266.00" y1="1857.40" x2="823.00" y2="1857.40" stroke="#000" stroke-width="3.1" stroke-dasharray="1.3 3.9"/>
<text x="238.30" y="1620.00" font-size="30.7" fill="#000" text-anchor="end">0.6</text>
<text x="238.30" y="1951.00" font-size="30.7" fill="#000" text-anchor="end">–0.2</text>
<text transform="translate(114.30 1776.00) rotate(-90)" font-size="31.0" fill="#000" text-anchor="middle">Effect size</text>
<text transform="translate(151.00 1776.00) rotate(-90)" font-size="31.0" fill="#000" text-anchor="middle">(<tspan font-style="italic">vs.</tspan> monoculture)</text>
<text x="686.00" y="1590.00" font-size="25.3" fill="#000"><tspan font-style="italic">P</tspan> = 0.001</text>
<path d="M683.3,1622.6 V1602.6 H800.2 V1696.9" fill="none" stroke="#929292" stroke-width="8.6"/>
<text x="658.60" y="1672.80" font-size="22" fill="#000" text-anchor="middle">*</text>
<text x="686.40" y="1682.80" font-size="22" fill="#000" text-anchor="middle">*</text>
<text x="631.90" y="1778.00" font-size="22" fill="#000" text-anchor="middle">*</text>
<text x="283.20" y="1995.90" font-size="30.6" fill="#000" text-anchor="end">M<tspan font-family="'Liberation Serif', serif" font-size="107%">Φ</tspan></text>
<text x="321.50" y="1996.30" font-size="30.6" fill="#000" text-anchor="middle">–</text>
<text x="434.20" y="1999.20" font-size="30.6" fill="#000" text-anchor="middle">+</text>
<text x="547.20" y="1999.20" font-size="30.6" fill="#000" text-anchor="middle">+</text>
<text x="660.00" y="1996.30" font-size="30.6" fill="#000" text-anchor="middle">–</text>
<text x="773.20" y="1996.30" font-size="30.6" fill="#000" text-anchor="middle">–</text>
<text x="283.20" y="2035.20" font-size="30.6" fill="#000" text-anchor="end">IL4-M<tspan font-family="'Liberation Serif', serif" font-size="107%">Φ</tspan></text>
<text x="321.50" y="2035.00" font-size="30.6" fill="#000" text-anchor="middle">–</text>
<text x="434.20" y="2035.00" font-size="30.6" fill="#000" text-anchor="middle">–</text>
<text x="547.20" y="2035.00" font-size="30.6" fill="#000" text-anchor="middle">–</text>
<text x="660.00" y="2037.90" font-size="30.6" fill="#000" text-anchor="middle">+</text>
<text x="773.20" y="2037.90" font-size="30.6" fill="#000" text-anchor="middle">+</text>
<text x="283.20" y="2074.50" font-size="30.6" fill="#000" text-anchor="end">PI3K<tspan font-family="'Liberation Serif', serif">γ</tspan><tspan dx="-0.050em"> </tspan>inh. (IPI-549)</text>
<text x="321.50" y="2078.00" font-size="30.6" fill="#000" text-anchor="middle">+</text>
<text x="434.20" y="2075.10" font-size="30.6" fill="#000" text-anchor="middle">–</text>
<text x="547.20" y="2078.00" font-size="30.6" fill="#000" text-anchor="middle">+</text>
<text x="660.00" y="2075.10" font-size="30.6" fill="#000" text-anchor="middle">–</text>
<text x="773.20" y="2078.00" font-size="30.6" fill="#000" text-anchor="middle">+</text>
<rect x="1153.80" y="1809.00" width="27.90" height="82.50" fill="#000"/>
<rect x="1180.40" y="1770.90" width="28.10" height="38.10" fill="#7A7A7A"/>
<rect x="1207.20" y="1809.00" width="27.80" height="27.00" fill="#D4D4D4"/>
<rect x="1267.10" y="1809.00" width="27.80" height="33.50" fill="#000"/>
<rect x="1293.30" y="1809.00" width="27.00" height="19.50" fill="#7A7A7A"/>
<rect x="1320.00" y="1809.00" width="28.00" height="38.20" fill="#D4D4D4"/>
<rect x="1380.10" y="1809.00" width="27.80" height="60.40" fill="#000"/>
<rect x="1407.90" y="1809.00" width="25.60" height="2.00" fill="#7A7A7A"/>
<rect x="1433.50" y="1809.00" width="27.80" height="43.00" fill="#D4D4D4"/>
<rect x="1493.10" y="1766.50" width="26.70" height="42.50" fill="#000"/>
<rect x="1519.80" y="1637.00" width="27.50" height="172.00" fill="#7A7A7A"/>
<rect x="1546.00" y="1666.40" width="28.50" height="142.60" fill="#D4D4D4"/>
<rect x="1606.10" y="1778.30" width="27.70" height="30.70" fill="#000"/>
<rect x="1632.80" y="1809.00" width="28.00" height="45.40" fill="#7A7A7A"/>
<rect x="1659.50" y="1809.00" width="28.00" height="8.00" fill="#D4D4D4"/>
<rect x="1175.4" y="1715.6" width="307.8" height="222.5" fill="#909016" fill-opacity="0.09"/>
<line x1="1194.20" y1="1749.00" x2="1471.70" y2="1749.00" stroke="#C3C3B4" stroke-width="4"/>
<text x="1332.40" y="1739.80" font-size="25.5" fill="#000" text-anchor="middle">n.s.</text>
<line x1="1134.60" y1="1609.10" x2="1134.60" y2="1943.30" stroke="#000" stroke-width="6.0"/>
<line x1="1120.60" y1="1940.20" x2="1695.80" y2="1940.20" stroke="#000" stroke-width="6.2"/>
<line x1="1120.60" y1="1612.20" x2="1134.60" y2="1612.20" stroke="#000" stroke-width="6.2"/>
<line x1="1120.60" y1="1677.80" x2="1134.60" y2="1677.80" stroke="#000" stroke-width="6.2"/>
<line x1="1120.60" y1="1743.40" x2="1134.60" y2="1743.40" stroke="#000" stroke-width="6.2"/>
<line x1="1120.60" y1="1809.00" x2="1134.60" y2="1809.00" stroke="#000" stroke-width="6.2"/>
<line x1="1120.60" y1="1874.60" x2="1134.60" y2="1874.60" stroke="#000" stroke-width="6.2"/>
<line x1="1120.60" y1="1940.20" x2="1134.60" y2="1940.20" stroke="#000" stroke-width="6.2"/>
<line x1="1194.20" y1="1940.20" x2="1194.20" y2="1962.90" stroke="#000" stroke-width="6.0"/>
<line x1="1307.40" y1="1940.20" x2="1307.40" y2="1962.90" stroke="#000" stroke-width="6.0"/>
<line x1="1420.40" y1="1940.20" x2="1420.40" y2="1962.90" stroke="#000" stroke-width="6.0"/>
<line x1="1533.20" y1="1940.20" x2="1533.20" y2="1962.90" stroke="#000" stroke-width="6.0"/>
<line x1="1646.20" y1="1940.20" x2="1646.20" y2="1962.90" stroke="#000" stroke-width="6.0"/>
<line x1="1120.80" y1="1809.00" x2="1695.80" y2="1809.00" stroke="#000" stroke-width="2.4"/>
<line x1="1137.50" y1="1808.40" x2="1695.80" y2="1808.40" stroke="#000" stroke-width="3.1" stroke-dasharray="1.3 3.9"/>
<text x="1108.80" y="1623.00" font-size="30.7" fill="#000" text-anchor="end">0.3</text>
<text x="1108.80" y="1950.80" font-size="30.7" fill="#000" text-anchor="end">–0.2</text>
<text transform="translate(984.90 1776.00) rotate(-90)" font-size="31.0" fill="#000" text-anchor="middle">Effect size</text>
<text transform="translate(1022.40 1776.00) rotate(-90)" font-size="31.0" fill="#000" text-anchor="middle">(<tspan font-style="italic">vs.</tspan> monoculture)</text>
<text x="1559.20" y="1608.90" font-size="25.3" fill="#000"><tspan font-style="italic">P</tspan> = 0.005</text>
<path d="M1556.9,1639.5 V1619.6 H1673.9 V1713.7" fill="none" stroke="#929292" stroke-width="8.6"/>
<text x="1530.00" y="1638.80" font-size="22" fill="#000" text-anchor="middle">*</text>
<text x="1556.40" y="1667.80" font-size="22" fill="#000" text-anchor="middle">*</text>
<text x="1164.30" y="1914.00" font-size="22" fill="#000" text-anchor="middle">*</text>
<text x="1155.00" y="1998.60" font-size="30.6" fill="#000" text-anchor="end">M<tspan font-family="'Liberation Serif', serif" font-size="107%">Φ</tspan></text>
<text x="1194.20" y="1998.90" font-size="30.6" fill="#000" text-anchor="middle">–</text>
<text x="1307.40" y="2001.80" font-size="30.6" fill="#000" text-anchor="middle">+</text>
<text x="1420.40" y="2001.80" font-size="30.6" fill="#000" text-anchor="middle">+</text>
<text x="1533.20" y="1998.90" font-size="30.6" fill="#000" text-anchor="middle">–</text>
<text x="1646.20" y="1998.90" font-size="30.6" fill="#000" text-anchor="middle">–</text>
<text x="1155.00" y="2038.10" font-size="30.6" fill="#000" text-anchor="end">IL4-M<tspan font-family="'Liberation Serif', serif" font-size="107%">Φ</tspan></text>
<text x="1194.20" y="2038.50" font-size="30.6" fill="#000" text-anchor="middle">–</text>
<text x="1307.40" y="2038.50" font-size="30.6" fill="#000" text-anchor="middle">–</text>
<text x="1420.40" y="2038.50" font-size="30.6" fill="#000" text-anchor="middle">–</text>
<text x="1533.20" y="2041.40" font-size="30.6" fill="#000" text-anchor="middle">+</text>
<text x="1646.20" y="2041.40" font-size="30.6" fill="#000" text-anchor="middle">+</text>
<text x="1155.00" y="2078.40" font-size="30.6" fill="#000" text-anchor="end">Anti-EGFR mAb</text>
<text x="1194.20" y="2080.60" font-size="30.6" fill="#000" text-anchor="middle">+</text>
<text x="1307.40" y="2077.70" font-size="30.6" fill="#000" text-anchor="middle">–</text>
<text x="1420.40" y="2080.60" font-size="30.6" fill="#000" text-anchor="middle">+</text>
<text x="1533.20" y="2077.70" font-size="30.6" fill="#000" text-anchor="middle">–</text>
<text x="1646.20" y="2080.60" font-size="30.6" fill="#000" text-anchor="middle">+</text>
</g>
</svg>
</body></html>
